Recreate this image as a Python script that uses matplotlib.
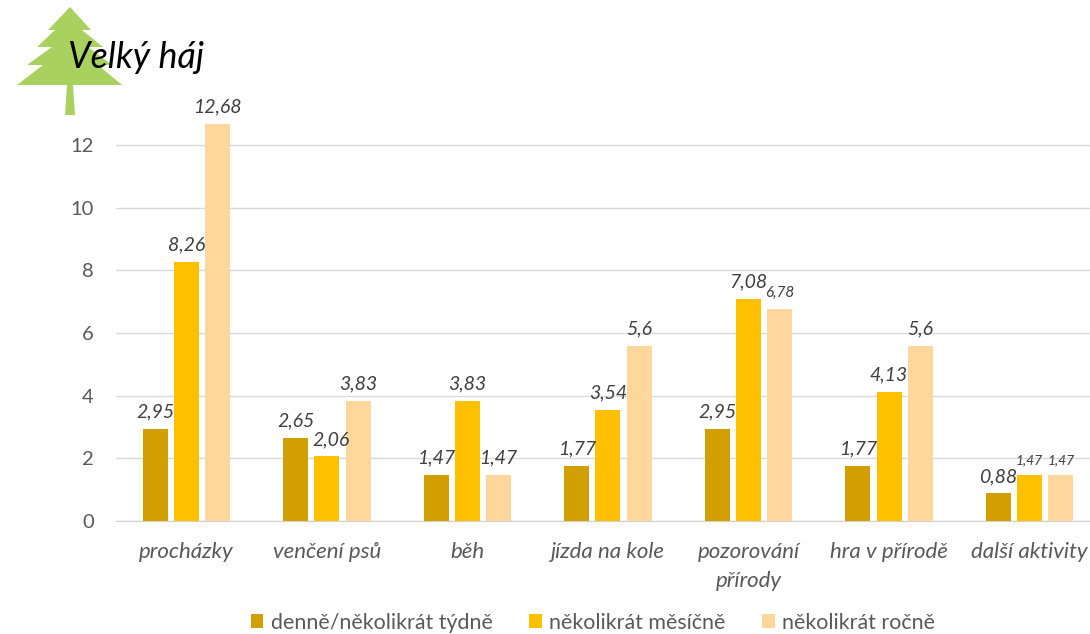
import numpy as np
import matplotlib
matplotlib.use('Agg')
import matplotlib.pyplot as plt
from matplotlib.patches import Polygon

categories = ['procházky', 'venčení psů', 'běh', 'jízda na kole',
              'pozorování\npřírody', 'hra v přírodě', 'další aktivity']
series_names = ['denně/několikrát týdně', 'několikrát měsíčně', 'několikrát ročně']
tydne = [2.95, 2.65, 1.47, 1.77, 2.95, 1.77, 0.88]
mesicne = [8.26, 2.06, 3.83, 3.54, 7.08, 4.13, 1.47]
rocne = [12.68, 3.83, 1.47, 5.6, 6.78, 5.6, 1.47]
colors = ['#D29F00', '#FFC000', '#FFD79C']
y_ticks = [0, 2, 4, 6, 8, 10, 12]

W, H = 1090, 634
plt.rcParams['font.family'] = ['Lato', 'DejaVu Sans']
grey = '#595959'

fig = plt.figure(figsize=(W / 100, H / 100), dpi=100)
# y range runs to 13 so the tallest bar fits, gridlines stop at 12
ax = fig.add_axes([116 / W, 1 - 521 / H, (W - 116) / W, 376 * 13 / 12 / H])

x = np.arange(len(categories))
step = 0.222
width = 0.178
for i, (vals, col, name) in enumerate(zip([tydne, mesicne, rocne], colors, series_names)):
    pos = x + (i - 1) * step
    ax.bar(pos, vals, width, color=col, label=name, zorder=3)
    for p, v in zip(pos, vals):
        # two small labels at the far right, 6,78 a bit smaller too
        if v == 1.47 and p > 5.5:
            fs = 10
        elif v == 6.78:
            fs = 11
        else:
            fs = 14
        off = p
        if v == 2.06:
            off = p + 0.03
        txt = ('%.2f' % v).replace('.', ',')
        if v == 5.6:
            txt = '5,6'
        ax.text(off, v + 0.27, txt, ha='center', va='bottom', fontsize=fs,
                style='italic', color='#404040', zorder=4)

ax.set_xlim(-0.5, 6.43)
ax.set_ylim(0, 13)
ax.set_yticks(y_ticks)
ax.set_xticks(x)
ax.set_xticklabels(categories, style='italic', fontsize=16, color=grey, linespacing=1.55)
ax.tick_params(axis='y', length=0, labelsize=14.5, labelcolor=grey, pad=16)
ax.tick_params(axis='x', length=0, pad=15)
ax.grid(axis='y', color='#D9D9D9', lw=1, zorder=0)
for s in ['top', 'right', 'left']:
    ax.spines[s].set_visible(False)
ax.spines['bottom'].set_color('#D0D0D0')

fig.legend(loc='lower center', bbox_to_anchor=(593 / W, -0.015), ncol=3, frameon=False,
           fontsize=15.4, labelcolor=grey, handlelength=0.6, handleheight=0.6,
           handletextpad=0.35, columnspacing=1.7, borderaxespad=0.1)

# tree decoration behind the title, in pixel coordinates of the picture
tree = [(70, 7), (91, 30), (82, 30), (103, 47), (88, 47), (112, 65), (98, 65), (122, 85),
        (73, 85), (75, 115), (65, 115), (67, 85), (17, 85), (43, 65), (27, 65),
        (52, 47), (37, 47), (55, 30), (48, 30)]
fig.add_artist(Polygon([(a / W, 1 - b / H) for a, b in tree], closed=True,
                       transform=fig.transFigure, fc='#A9D15F', ec='none', zorder=5))
fig.text(68 / W, 1 - 68 / H, 'Velký háj', fontsize=25.8, style='italic', color='black',
         va='baseline', zorder=6)

fig.savefig('out.png', dpi=100)
